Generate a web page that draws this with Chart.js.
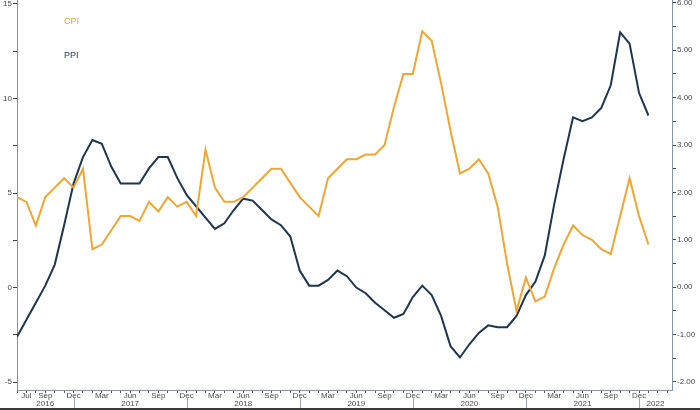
<!DOCTYPE html>
<html>
<head>
<meta charset="utf-8">
<script src="https://cdn.jsdelivr.net/npm/chart.js@4.4.1/dist/chart.umd.min.js"></script>
<style>
  html, body { margin: 0; padding: 0; background: #fff; }
  #wrap { width: 700px; height: 410px; position: relative; }
</style>
</head>
<body>
<div id="wrap"><canvas id="cpiPpiChart"></canvas></div>
<script>
// monthly categories, Jun 2016 .. Apr 2022 (axis runs a little past the last print)
const months = [
  'Jun 2016', 'Jul 2016', 'Aug 2016', 'Sep 2016', 'Oct 2016', 'Nov 2016', 'Dec 2016',
  'Jan 2017', 'Feb 2017', 'Mar 2017', 'Apr 2017', 'May 2017', 'Jun 2017', 'Jul 2017', 'Aug 2017', 'Sep 2017', 'Oct 2017', 'Nov 2017', 'Dec 2017',
  'Jan 2018', 'Feb 2018', 'Mar 2018', 'Apr 2018', 'May 2018', 'Jun 2018', 'Jul 2018', 'Aug 2018', 'Sep 2018', 'Oct 2018', 'Nov 2018', 'Dec 2018',
  'Jan 2019', 'Feb 2019', 'Mar 2019', 'Apr 2019', 'May 2019', 'Jun 2019', 'Jul 2019', 'Aug 2019', 'Sep 2019', 'Oct 2019', 'Nov 2019', 'Dec 2019',
  'Jan 2020', 'Feb 2020', 'Mar 2020', 'Apr 2020', 'May 2020', 'Jun 2020', 'Jul 2020', 'Aug 2020', 'Sep 2020', 'Oct 2020', 'Nov 2020', 'Dec 2020',
  'Jan 2021', 'Feb 2021', 'Mar 2021', 'Apr 2021', 'May 2021', 'Jun 2021', 'Jul 2021', 'Aug 2021', 'Sep 2021', 'Oct 2021', 'Nov 2021', 'Dec 2021',
  'Jan 2022', 'Feb 2022', 'Mar 2022'
];

// months that carry a label under the axis
const labeledMonths = [
  'Jul 2016', 'Sep 2016', 'Dec 2016',
  'Mar 2017', 'Jun 2017', 'Sep 2017', 'Dec 2017',
  'Mar 2018', 'Jun 2018', 'Sep 2018', 'Dec 2018',
  'Mar 2019', 'Jun 2019', 'Sep 2019', 'Dec 2019',
  'Mar 2020', 'Jun 2020', 'Sep 2020', 'Dec 2020',
  'Mar 2021', 'Jun 2021', 'Sep 2021', 'Dec 2021'
];

const years = ['2016', '2017', '2018', '2019', '2020', '2021', '2022'];

// CPI y/y %, right axis
const cpi = [
  1.9, 1.8, 1.3, 1.9, 2.1, 2.3, 2.1,
  2.5, 0.8, 0.9, 1.2, 1.5, 1.5, 1.4, 1.8, 1.6, 1.9, 1.7, 1.8,
  1.5, 2.9, 2.1, 1.8, 1.8, 1.9, 2.1, 2.3, 2.5, 2.5, 2.2, 1.9,
  1.7, 1.5, 2.3, 2.5, 2.7, 2.7, 2.8, 2.8, 3.0, 3.8, 4.5, 4.5,
  5.4, 5.2, 4.3, 3.3, 2.4, 2.5, 2.7, 2.4, 1.7, 0.5, -0.5, 0.2,
  -0.3, -0.2, 0.4, 0.9, 1.3, 1.1, 1.0, 0.8, 0.7, 1.5, 2.3, 1.5,
  0.9
];

// PPI y/y %, left axis
const ppi = [
  -2.6, -1.7, -0.8, 0.1, 1.2, 3.3, 5.5,
  6.9, 7.8, 7.6, 6.4, 5.5, 5.5, 5.5, 6.3, 6.9, 6.9, 5.8, 4.9,
  4.3, 3.7, 3.1, 3.4, 4.1, 4.7, 4.6, 4.1, 3.6, 3.3, 2.7, 0.9,
  0.1, 0.1, 0.4, 0.9, 0.6, 0.0, -0.3, -0.8, -1.2, -1.6, -1.4, -0.5,
  0.1, -0.4, -1.5, -3.1, -3.7, -3.0, -2.4, -2.0, -2.1, -2.1, -1.5, -0.4,
  0.3, 1.7, 4.4, 6.8, 9.0, 8.8, 9.0, 9.5, 10.7, 13.5, 12.9, 10.3,
  9.1
];

const leftTicks = [-5, -2.5, 0, 2.5, 5, 7.5, 10, 12.5, 15];
const rightTicks = [-2, -1.5, -1, -0.5, 0, 0.5, 1, 1.5, 2, 2.5, 3, 3.5, 4, 4.5, 5, 5.5, 6];

const CPI_COLOR = '#F2A531';
const PPI_COLOR = '#1E3550';
const AXIS_COLOR = '#8593a3';
const TEXT_COLOR = '#4a4a4a';
const FONT = 'Liberation Sans';

// x runs on month index; ends about half way between Mar and Apr 2022
const X_END = 69.5;
const toPoints = arr => arr.map((v, i) => ({ x: i, y: v }));

// years under the month labels, with separators at each December
const yearRow = {
    id: 'yearRow',
    afterDraw(chart) {
        const ctx = chart.ctx;
        const x = chart.scales.x;
        const area = chart.chartArea;
        const seps = [];
        months.forEach((m, i) => { if (m.startsWith('Dec')) seps.push(x.getPixelForValue(i)); });

        ctx.save();
        ctx.strokeStyle = '#9aa4ae';
        ctx.lineWidth = 1;
        seps.forEach(px => {
            ctx.beginPath();
            ctx.moveTo(Math.round(px) + 0.5, 397);
            ctx.lineTo(Math.round(px) + 0.5, 409);
            ctx.stroke();
        });

        const edges = [area.left].concat(seps, [area.right]);
        ctx.fillStyle = TEXT_COLOR;
        ctx.font = '8px "' + FONT + '"';
        ctx.textAlign = 'center';
        ctx.textBaseline = 'middle';
        years.forEach((y, i) => {
            ctx.fillText(y, (edges[i] + edges[i + 1]) / 2, 404);
        });

        // dark strip along the bottom edge
        ctx.fillStyle = '#3a3a3a';
        ctx.fillRect(0, 408, chart.width, 2);

        // series names in the top left
        ctx.font = '9px "' + FONT + '"';
        ctx.textAlign = 'left';
        ctx.fillStyle = CPI_COLOR;
        ctx.fillText('CPI', 64, 22);
        ctx.fillStyle = PPI_COLOR;
        ctx.fillText('PPI', 64, 56);
        ctx.restore();
    }
};

function noPadding(scale) {
    scale.paddingTop = 0;
    scale.paddingBottom = 0;
    scale.paddingLeft = 0;
    scale.paddingRight = 0;
}

const ctx = document.getElementById('cpiPpiChart').getContext('2d');
new Chart(ctx, {
    type: 'line',
    data: {
        datasets: [
            {
                label: 'CPI',
                data: toPoints(cpi),
                yAxisID: 'y1',
                borderColor: CPI_COLOR,
                borderWidth: 2,
                pointRadius: 0,
                tension: 0,
                fill: false
            },
            {
                label: 'PPI',
                data: toPoints(ppi),
                yAxisID: 'y',
                borderColor: PPI_COLOR,
                borderWidth: 2,
                pointRadius: 0,
                tension: 0,
                fill: false
            }
        ]
    },
    options: {
        responsive: true,
        maintainAspectRatio: false,
        animation: false,
        layout: { padding: 0 },
        plugins: {
            legend: { display: false },
            tooltip: { enabled: false }
        },
        scales: {
            x: {
                type: 'linear',
                min: 0,
                max: X_END,
                afterBuildTicks: s => { s.ticks = months.map((m, i) => ({ value: i })); },
                grid: { drawOnChartArea: false, drawTicks: true, tickLength: 3, color: '#555' },
                border: { display: true, color: AXIS_COLOR },
                ticks: {
                    autoSkip: false,
                    maxRotation: 0,
                    minRotation: 0,
                    padding: -2,
                    color: TEXT_COLOR,
                    font: { family: FONT, size: 8 },
                    callback: v => labeledMonths.includes(months[v]) ? months[v].split(' ')[0] : ''
                },
                afterFit: s => { s.height = 20; noPadding(s); }
            },
            y: {
                position: 'left',
                min: -5.42,
                max: 15.21,
                afterBuildTicks: s => { s.ticks = leftTicks.map(v => ({ value: v })); },
                grid: { drawOnChartArea: false, drawTicks: true, tickLength: 4, color: '#444' },
                border: { display: true, color: AXIS_COLOR },
                ticks: {
                    padding: 1,
                    color: TEXT_COLOR,
                    font: { family: FONT, size: 8 },
                    callback: v => (v % 5 === 0 ? String(v) : '')
                },
                afterFit: s => { s.width = 17; noPadding(s); }
            },
            y1: {
                position: 'right',
                min: -2.17,
                max: 6.06,
                afterBuildTicks: s => { s.ticks = rightTicks.map(v => ({ value: v })); },
                grid: { drawOnChartArea: false, drawTicks: true, tickLength: 4, color: '#444' },
                border: { display: true, color: AXIS_COLOR },
                ticks: {
                    padding: 1,
                    color: TEXT_COLOR,
                    font: { family: FONT, size: 8 },
                    callback: v => (Number.isInteger(v) ? v.toFixed(2) : '')
                },
                afterFit: s => { s.width = 28; noPadding(s); }
            }
        }
    },
    plugins: [yearRow]
});
</script>
</body>
</html>
